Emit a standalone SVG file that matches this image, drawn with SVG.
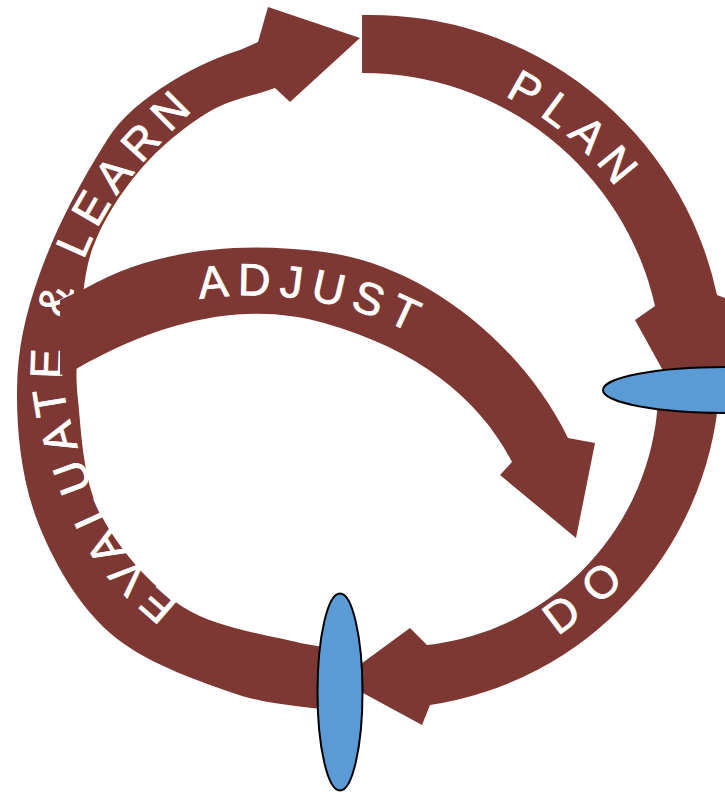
<svg xmlns="http://www.w3.org/2000/svg" width="725" height="792" viewBox="0 0 725 792">
  <style>
    .band { fill: #7E3834; }
    .lbl { fill: #ffffff; stroke: #ffffff; stroke-width: 0.8; font-family: "Liberation Sans", Arial, sans-serif; font-size: 45px; dominant-baseline: central; }
    .oval { fill: #5B9BD5; stroke: #000000; stroke-width: 2; }
  </style>
  <defs>
    <path id="pPlan" d="M427.9,54.9 A322,322 0 0 1 674.6,261.9"/>
    <path id="pDo" d="M470,668 Q610,600 690,480"/>
    <path id="pEval" d="M185,630 C157.7,601.7 125.5,582.5 103,545 C80.5,507.5 58,445.8 50,405 C42,364.2 47.2,334.7 55,300 C62.8,265.3 77.3,229.2 97,197 C116.7,164.8 154.2,126.2 173,107 L205,75"/>
    <path id="pAdj" d="M140,298 C220,270 330,268 440,330"/>
  </defs>
  <rect width="725" height="792" fill="#ffffff"/>
  <g id="connectors">
    <g id="plan">
      <path class="band" d="M362,15 A354,354 0 0 1 717,295 L780,318 L682,405 L635,320 L655,306 A299,299 0 0 0 362,73 Z"/>
      <text class="lbl" letter-spacing="11.2"><textPath href="#pPlan" startOffset="89">PLAN</textPath></text>
    </g>
    <g id="do">
      <path class="band" d="M719,395 A341,341 0 0 1 430,705 L422,725 L339,680 L410,628 L427,645 A260,260 0 0 0 658,400 Z"/>
      <text class="lbl" letter-spacing="17"><textPath href="#pDo" startOffset="90">DO</textPath></text>
    </g>
    <g id="evaluate">
      <path class="band" d="M340,712 C304.3,705.7 271.3,706.2 233,693 C194.7,679.8 142.7,661.8 110,633 C77.3,604.2 52.5,560.5 37,520 C21.5,479.5 16.5,431.2 17,390 C17.5,348.8 25,314.7 40,273 C55,231.3 76,189.5 107,140 C135,95 205,60 240,50 L258,42 L268,7 L360,38 L290,102 L275,88 C252.3,96.3 229.5,99.3 207,113 C184.5,126.7 159,147.7 140,170 C121,192.3 103,220.3 93,247 C83,273.7 82.5,304.5 80,330 C77.5,355.5 74.7,369.5 78,400 C81.3,430.5 82.5,478.5 100,513 C117.5,547.5 149.7,585.3 183,607 C216.3,628.7 273.8,635.8 300,643 L340,650 Z"/>
      <text class="lbl" letter-spacing="10.7"><textPath href="#pEval" startOffset="22">EVALUATE &amp; LEARN</textPath></text>
    </g>
    <g id="adjust">
      <path class="band" d="M60,300 L86,288 C150,252 230,240 324,252 C420,264 520,340 568,438 L595,443 L576,538 L500,475 L512,462 C480,400 420,350 324,323 C260,305 180,310 76,369 L60,375 Z"/>
      <text class="lbl" letter-spacing="10.1"><textPath href="#pAdj" startOffset="60">ADJUST</textPath></text>
    </g>
  </g>
  <g id="node-right">
    <ellipse class="oval" cx="725" cy="390" rx="122" ry="23"/>
  </g>
  <g id="node-bottom">
    <ellipse class="oval" cx="340" cy="692" rx="22.5" ry="98.5"/>
  </g>
</svg>
